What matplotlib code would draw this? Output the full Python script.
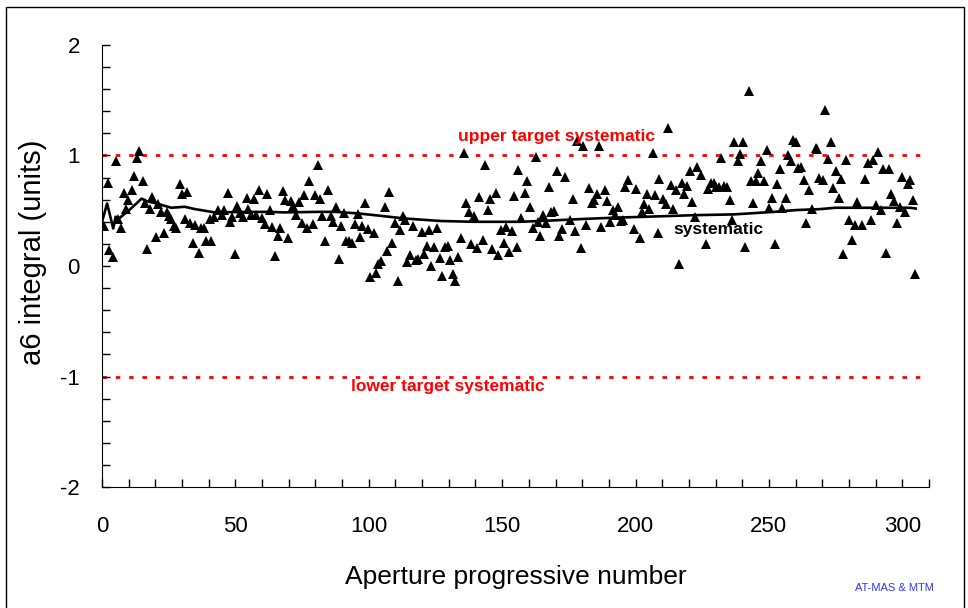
import numpy as np
import matplotlib
matplotlib.use('Agg')
import matplotlib.pyplot as plt
from matplotlib.ticker import MultipleLocator
from matplotlib.patches import Rectangle

plt.rcParams['font.family'] = ['Liberation Sans', 'DejaVu Sans']
plt.rcParams['axes.unicode_minus'] = False

ap_x = [0.9, 2.1, 2.7, 4.2, 5.1, 6.1, 7.1, 8.4, 9.1, 9.8, 11.2, 12.0, 13.2, 14.0, 15.2, 16.1, 16.8,
        18.1, 18.9, 20.2, 20.9, 22.2, 23.1, 24.2, 25.0, 25.9, 26.9, 27.8, 29.2, 29.9, 31.0, 32.0,
        32.8, 34.1, 34.8, 36.2, 37.0, 38.1, 39.0, 40.3, 41.0, 42.0, 43.5, 44.8, 45.7, 47.2, 47.9,
        48.8, 49.9, 50.6,
        51.9, 52.9, 54.2, 54.9, 56.0, 56.9, 57.9, 58.9, 59.8, 61.0, 61.9, 63.0, 63.9, 65.0, 65.9,
        66.9, 67.9, 68.7, 69.9, 70.7, 71.7, 72.7, 73.8, 74.8, 75.7, 76.8, 77.7, 79.0, 79.7, 80.9,
        81.8, 82.6, 83.7, 84.6, 85.8, 86.7, 87.8, 88.7, 89.6, 90.6, 91.6, 92.7, 93.6, 94.7, 95.8,
        96.8, 97.6, 98.5, 99.6, 100.5, 101.8, 102.7, 103.6,
        104.6, 105.9, 106.9, 107.5, 108.8, 109.7, 110.8, 111.6, 112.9, 113.6, 114.4, 115.5, 116.5,
        117.8, 118.6, 119.8, 120.6, 121.8, 122.6, 123.5, 124.6, 125.5, 126.7, 127.6, 128.6, 129.6,
        130.4, 131.6, 132.5, 133.6, 134.5, 135.7, 136.6, 137.7, 138.5, 139.3, 140.6, 141.5, 142.7,
        143.5, 144.7, 145.6, 146.3, 147.6, 148.5, 149.6, 150.5, 151.6, 152.6, 153.6, 154.6, 155.4,
        156.1,
        157.2, 158.4, 159.2, 160.5, 161.4, 162.7, 163.5, 164.3, 165.4, 166.4, 167.5, 168.3, 169.5,
        170.4, 171.4, 172.4, 173.4, 175.4, 176.5, 177.4, 178.2, 179.5, 180.3, 181.5, 182.4, 183.6,
        184.4, 185.5, 186.4, 187.2, 188.4, 189.4, 190.5, 191.4, 192.4, 193.3, 194.5, 195.3, 196.2,
        197.3, 199.5, 200.3, 201.5, 202.3, 203.2, 204.4, 205.2, 206.4, 207.2, 208.4, 208.8,
        210.4, 211.3, 212.1, 213.2, 214.1, 215.3, 216.2, 217.4, 218.3, 219.4, 220.3, 221.2, 222.3,
        223.2, 224.4, 226.3, 227.3, 228.2, 229.4, 230.3, 231.3, 232.0, 233.2, 234.2, 235.4, 236.3,
        237.0, 238.3, 239.2, 240.3, 241.1, 242.4, 243.1, 244.0, 245.2, 246.0, 247.1, 248.1, 249.4,
        250.1, 251.3, 252.2, 253.0, 254.2, 255.0, 256.3, 257.2, 258.3, 259.0, 260.2, 260.8,
        262.1, 263.1, 264.0, 265.2, 266.2, 267.5, 268.1, 268.9, 270.2, 270.9, 272.2, 273.1, 274.2,
        275.1, 276.3, 277.2, 277.9, 279.0, 280.0, 281.2, 282.1, 283.2, 284.8, 286.1, 287.1, 288.2,
        288.9, 290.0, 291.0, 292.0, 292.9, 293.9, 295.0, 295.9, 296.9, 297.9, 299.0, 299.9, 300.9,
        302.0, 302.8, 304.0, 304.9]
ap_y = [0.365, 0.75, 0.146, 0.077, 0.95, 0.425, 0.34, 0.66, 0.515, 0.60, 0.69, 0.81, 0.98, 1.04,
        0.77, 0.57, 0.155, 0.52, 0.626, 0.266, 0.557, 0.49, 0.295, 0.49, 0.452, 0.425, 0.365, 0.34,
        0.74, 0.65, 0.425, 0.67, 0.39, 0.205, 0.37, 0.115, 0.34, 0.34, 0.227, 0.425, 0.227, 0.44,
        0.51, 0.46, 0.506, 0.66, 0.40, 0.446, 0.106, 0.545,
        0.476, 0.446, 0.617, 0.515, 0.46, 0.605, 0.46, 0.686, 0.43, 0.38, 0.656, 0.51, 0.35, 0.095,
        0.27, 0.34, 0.68, 0.596, 0.257, 0.587, 0.542, 0.46, 0.575, 0.39, 0.647, 0.34, 0.767, 0.38,
        0.64, 0.917, 0.61, 0.452, 0.227, 0.686, 0.452, 0.395, 0.53, 0.065, 0.362, 0.476, 0.23,
        0.23, 0.205, 0.38, 0.47, 0.266, 0.362, 0.572, 0.335, -0.10, 0.295, -0.06, 0.016,
        0.047, 0.53, 0.14, 0.67, 0.205, 0.386, -0.14, 0.33, 0.452, 0.416, 0.034, 0.10, 0.365,
        0.056, 0.065, 0.31, 0.11, 0.185, 0.326, 0.0, 0.175, 0.347, 0.07, -0.088, 0.175, 0.18,
        0.056, -0.07, -0.14, 0.08, 0.25, 1.02, 0.566, 0.49, 0.196, 0.452, 0.16, 0.626, 0.236,
        0.91, 0.51, 0.605, 0.155, 0.66, 0.10, 0.326, 0.205, 0.356, 0.13, 0.317, 0.635, 0.17,
        0.87,
        0.437, 0.66, 0.767, 0.53, 0.34, 0.99, 0.40, 0.275, 0.46, 0.39, 0.716, 0.49, 0.50,
        0.863, 0.275, 0.335, 0.806, 0.416, 0.605, 0.317, 1.128, 0.167, 1.083, 0.37, 0.707, 0.572,
        0.596, 0.65, 1.083, 0.356, 0.686, 0.59, 0.395, 0.51, 0.46, 0.536, 0.407, 0.416, 0.716,
        0.776, 0.335, 0.70, 0.25, 0.49, 0.557, 0.65, 0.52, 1.025, 0.64, 0.295, 0.79,
        0.61, 0.557, 1.248, 0.73, 0.515, 0.686, 0.02, 0.755, 0.65, 0.72, 0.857, 0.58, 0.446,
        0.896, 0.827, 0.196, 0.70, 0.755, 0.755, 0.716, 0.716, 0.977, 0.72, 0.716, 0.596, 0.42,
        1.12, 0.947, 1.016, 1.12, 0.175, 1.587, 0.767, 0.566, 0.767, 0.845, 0.95, 0.767, 1.047,
        0.527, 0.617, 0.196, 0.746, 0.88, 0.527, 0.617, 1.0, 0.947, 1.137, 1.12, 0.89,
        0.9, 0.776, 0.39, 0.686, 0.515, 1.067, 1.056, 0.797, 0.776, 1.416, 0.97, 1.12, 0.707,
        0.86, 0.617, 0.785, 0.106, 0.96, 0.416, 0.236, 0.37, 0.58, 0.37, 0.785, 0.935, 0.42,
        0.956, 0.55, 1.03, 0.51, 0.88, 0.115, 0.876, 0.656, 0.587, 0.39, 0.536, 0.806, 0.485,
        0.74, 0.776, 0.596, -0.068]

# systematic curve
sys_x = [0, 1.9, 4.2, 5.1, 6.3, 9.8, 12.9, 14.8, 16.7, 20.4, 26, 31, 34.8, 42.3, 49.8, 62.2,
         68.5, 81, 87.2, 95.9, 102.2, 113.4, 127.1, 139.6, 156.4, 167, 179.5, 192, 207, 222,
         236.9, 251.9, 260, 269.3, 274.9, 290.5, 303, 305]
sys_y = [0.40, 0.566, 0.34, 0.446, 0.43, 0.497, 0.566, 0.61, 0.587, 0.566, 0.527, 0.536, 0.515,
         0.485, 0.488, 0.49, 0.485, 0.49, 0.49, 0.476, 0.46, 0.43, 0.407, 0.40, 0.40, 0.41,
         0.425, 0.437, 0.448, 0.46, 0.467, 0.49, 0.506, 0.515, 0.527, 0.527, 0.527, 0.52]

upper_target = 1.0
lower_target = -1.0

fig = plt.figure(figsize=(9.68, 6.08), dpi=100)
ax = fig.add_axes([0.1054, 0.199, 0.8543, 0.727])

ax.axhline(upper_target, color='#ff0000', lw=2, linestyle=(0, (1.6, 3.2)), zorder=1)
ax.axhline(lower_target, color='#ff0000', lw=2, linestyle=(0, (1.6, 3.2)), zorder=1)
ax.plot(sys_x, sys_y, color='black', lw=1.9, zorder=2)
ax.plot(ap_x, ap_y, linestyle='none', marker='^', ms=7, mew=0, color='black', zorder=3)

ax.text(170.3, 1.176, 'upper target systematic', color='#ff0000', fontsize=12.5,
        fontweight='bold', ha='center', va='center')
ax.text(129.7, -1.086, 'lower target systematic', color='#ff0000', fontsize=12.5,
        fontweight='bold', ha='center', va='center')
ax.text(230.9, 0.33, 'systematic', color='black', fontsize=12.5,
        fontweight='bold', ha='center', va='center')

ax.set_xlim(0, 310)
ax.set_ylim(-2, 2)
ax.xaxis.set_major_locator(MultipleLocator(50))
ax.xaxis.set_minor_locator(MultipleLocator(10))
ax.yaxis.set_major_locator(MultipleLocator(1))
ax.yaxis.set_minor_locator(MultipleLocator(0.2))
ax.tick_params(which='both', direction='in', length=6, width=1, labelsize=16)
ax.tick_params(axis='x', which='both', pad=21)
ax.tick_params(axis='y', which='both', pad=16)
for s in ['top', 'right']:
    ax.spines[s].set_visible(False)

ax.set_xlabel('Aperture progressive number', fontsize=19)
ax.set_ylabel('a6 integral (units)', fontsize=21)
ax.xaxis.set_label_coords(0.5, -0.176)
ax.yaxis.set_label_coords(-0.066, 0.53)

fig.text(0.9245, 0.033, 'AT-MAS & MTM', color='#3333ff', fontsize=8, ha='center', va='center')

fig.patches.append(Rectangle((6 / 968, -0.05), 958 / 968, 1.05 - 7 / 608, transform=fig.transFigure,
                             fill=False, edgecolor='black', lw=1))

plt.savefig('out.png', dpi=100)
